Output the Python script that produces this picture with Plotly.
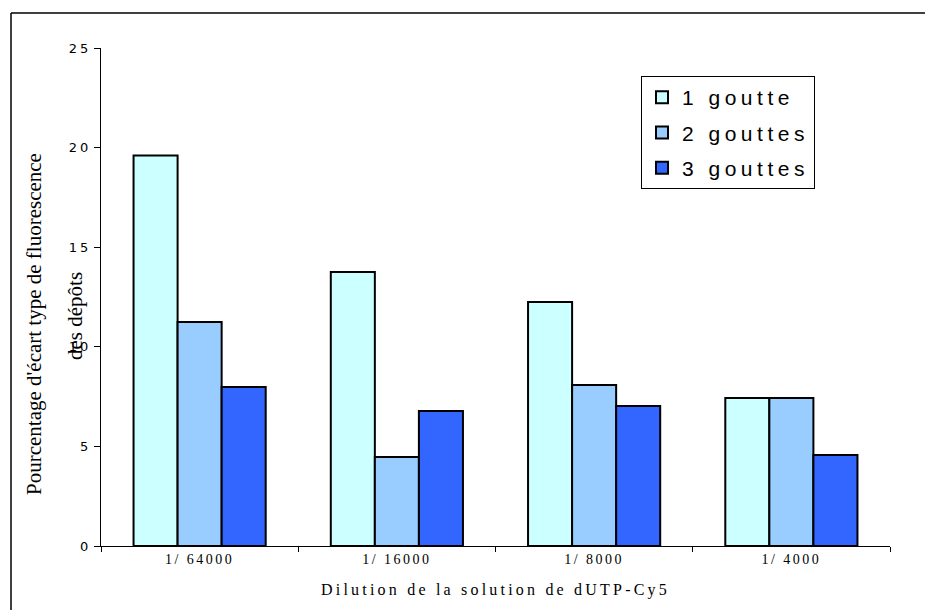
import plotly.graph_objects as go

categories = ["1/ 64000", "1/ 16000", "1/ 8000", "1/ 4000"]
series_names = ["1 goutte", "2 gouttes", "3 gouttes"]
goutte1 = [19.6, 13.75, 12.25, 7.43]
goutte2 = [11.25, 4.47, 8.08, 7.43]
goutte3 = [7.98, 6.78, 7.03, 4.57]
colors = ["#CCFFFF", "#99CCFF", "#3366FF"]
y_ticks = [0, 5, 10, 15, 20, 25]

# page offset of the rendered figure (body margin)
OFF = 8
W, H = 933, 610
L, R, T, B = 101 - OFF, 933 - (890 - OFF), 48 - OFF, 610 - (546 - OFF)

def sp(text, ls):
    return '<span style="letter-spacing:%spx">%s</span>' % (ls, text)

fig = go.Figure()
for name, vals, col in zip(series_names, [goutte1, goutte2, goutte3], colors):
    fig.add_trace(go.Bar(
        x=categories, y=vals, name=sp(name, 4.5), legendgroup=name,
        marker=dict(color=col, line=dict(color="black", width=2)),
    ))

pw = W - L - R
ph = H - T - B
def px(x):
    return (x - OFF - L) / pw
def py(y):
    return (H - B - (y - OFF)) / ph

fig.update_layout(
    width=W, height=H,
    margin=dict(l=L, r=R, t=T, b=B),
    paper_bgcolor="white", plot_bgcolor="white",
    barmode="group", bargap=0.33, bargroupgap=0,
    showlegend=True,
    legend=dict(
        x=px(641), y=py(76), xanchor="left", yanchor="top",
        bordercolor="black", borderwidth=1, bgcolor="white",
        font=dict(family="Liberation Sans, Arial", size=21, color="black"),
        traceorder="grouped", tracegroupgap=5,
    ),
    xaxis=dict(
        type="category", showline=True, linecolor="black", linewidth=1,
        ticks="outside", tickson="boundaries", ticklen=5, tickcolor="black",
        showgrid=False,
        tickmode="array", tickvals=categories,
        ticktext=[sp(c, 2.5) for c in categories],
        tickfont=dict(family="Liberation Serif, Times New Roman", size=14, color="black"),
        title=dict(text=sp("Dilution de la solution de dUTP-Cy5", 3.2),
                   font=dict(family="Liberation Serif, Times New Roman", size=16, color="black"),
                   standoff=18),
    ),
    yaxis=dict(
        range=[0, 25], tickmode="array", tickvals=y_ticks,
        ticktext=[sp(str(v), 3) for v in y_ticks],
        showline=True, linecolor="black", linewidth=1,
        ticks="outside", ticklen=6, tickcolor="black", showgrid=False, zeroline=False,
        tickfont=dict(family="DejaVu Sans, Arial", size=13, color="black"),
    ),
    font=dict(color="black"),
)

fig.add_annotation(
    text="Pourcentage d'écart type de fluorescence",
    xref="paper", yref="paper", x=px(34), y=py(324),
    showarrow=False, textangle=-90, xanchor="center", yanchor="middle",
    font=dict(family="Liberation Serif, Times New Roman", size=21, color="black"),
)
fig.add_annotation(
    text="des dépôts",
    xref="paper", yref="paper", x=px(75), y=py(316),
    showarrow=False, textangle=-90, xanchor="center", yanchor="middle",
    font=dict(family="Liberation Serif, Times New Roman", size=21, color="black"),
)

# outer frame lines (top and left)
fig.add_shape(type="line", xref="paper", yref="paper",
              x0=px(11), x1=px(940), y0=py(13), y1=py(13),
              line=dict(color="black", width=1.5))
fig.add_shape(type="line", xref="paper", yref="paper",
              x0=px(11), x1=px(11), y0=py(13), y1=py(620),
              line=dict(color="black", width=1.5))

fig.write_html("out.html")
